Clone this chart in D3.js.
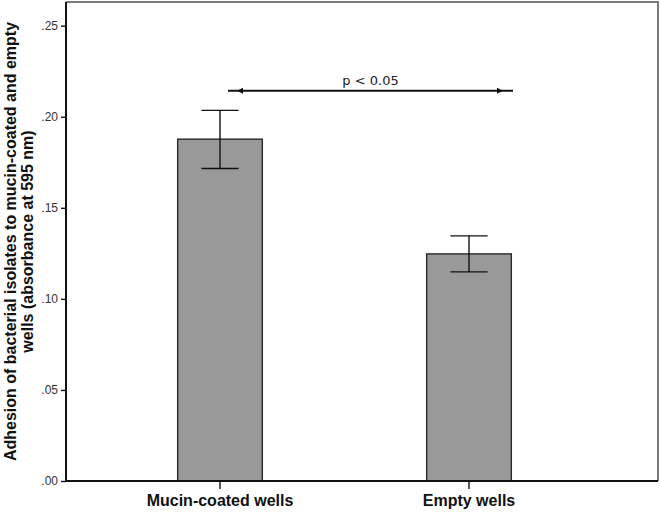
<!DOCTYPE html>
<html>
<head>
<meta charset="utf-8">
<script src="https://cdn.jsdelivr.net/npm/d3@7"></script>
<style>
  body { margin: 0; background: #fff; }
  svg { display: block; }
</style>
</head>
<body>
<div id="chart"></div>
<script>
const categories = ["Mucin-coated wells", "Empty wells"];
const means = [0.1877, 0.1247];
const ciLow = [0.1716, 0.1148];
const ciHigh = [0.2035, 0.1346];
const yTicks = [0, 0.05, 0.10, 0.15, 0.20, 0.25];
const sigLabel = "p < 0.05";
const sigLevel = 0.2143;

const width = 660, height = 512;
const margin = { top: 2, right: 2, bottom: 31, left: 66 };

const svg = d3.select("#chart").append("svg")
  .attr("width", width)
  .attr("height", height);

const y = d3.scaleLinear()
  .domain([0, 0.263])
  .range([height - margin.bottom, margin.top]);

const x = d3.scaleBand()
  .domain(categories)
  .range([95.5, 593.5])
  .paddingInner(0.66)
  .paddingOuter(0.33);

// frame (top/right in gray)
svg.append("path")
  .attr("d", `M${margin.left},${margin.top}H${width - margin.right}V${height - margin.bottom}`)
  .attr("fill", "none")
  .attr("stroke", "#7a7a7a")
  .attr("stroke-width", 2);

// bars
const data = categories.map((c, i) => ({ cat: c, mean: means[i], lo: ciLow[i], hi: ciHigh[i] }));

svg.selectAll("rect.bar")
  .data(data)
  .join("rect")
  .attr("class", "bar")
  .attr("x", d => x(d.cat))
  .attr("y", d => y(d.mean))
  .attr("width", x.bandwidth())
  .attr("height", d => y(0) - y(d.mean))
  .attr("fill", "#999999")
  .attr("stroke", "#2a2a2a")
  .attr("stroke-width", 1.4);

// error bars
const capW = x.bandwidth() * 0.44;
const eb = svg.selectAll("g.err")
  .data(data)
  .join("g")
  .attr("class", "err")
  .attr("stroke", "#111")
  .attr("stroke-width", 1.4);

eb.append("line")
  .attr("x1", d => x(d.cat) + x.bandwidth() / 2)
  .attr("x2", d => x(d.cat) + x.bandwidth() / 2)
  .attr("y1", d => y(d.lo))
  .attr("y2", d => y(d.hi));
eb.append("line")
  .attr("x1", d => x(d.cat) + x.bandwidth() / 2 - capW / 2)
  .attr("x2", d => x(d.cat) + x.bandwidth() / 2 + capW / 2)
  .attr("y1", d => y(d.hi))
  .attr("y2", d => y(d.hi));
eb.append("line")
  .attr("x1", d => x(d.cat) + x.bandwidth() / 2 - capW / 2)
  .attr("x2", d => x(d.cat) + x.bandwidth() / 2 + capW / 2)
  .attr("y1", d => y(d.lo))
  .attr("y2", d => y(d.lo));

// significance bracket
const c0 = x(categories[0]) + x.bandwidth() / 2;
const c1 = x(categories[1]) + x.bandwidth() / 2;
const sx0 = c0 + 8, sx1 = c1 + 44;
const sy = y(sigLevel);

svg.append("line")
  .attr("x1", sx0).attr("x2", sx1)
  .attr("y1", sy).attr("y2", sy)
  .attr("stroke", "#111")
  .attr("stroke-width", 2);

[[sx0 + 13, -1], [sx1 - 14, 1]].forEach(([px, dir]) => {
  svg.append("path")
    .attr("d", `M${px + dir * 4},${sy}L${px - dir * 2},${sy - 3}L${px - dir * 2},${sy + 3}Z`)
    .attr("fill", "#111");
});

svg.append("text")
  .attr("x", (sx0 + sx1) / 2)
  .attr("y", sy - 6)
  .attr("text-anchor", "middle")
  .attr("font-family", "DejaVu Sans, Verdana, sans-serif")
  .attr("font-size", 13)
  .attr("fill", "#222")
  .text(sigLabel);

// y axis
const yAxis = svg.append("g")
  .attr("transform", `translate(${margin.left},0)`)
  .call(d3.axisLeft(y).tickValues(yTicks).tickSize(5).tickPadding(3)
    .tickFormat(d => d3.format(".2f")(d).replace(/^0/, "")));
yAxis.select(".domain").attr("stroke", "#111").attr("stroke-width", 2)
  .attr("d", `M0,${margin.top}V${height - margin.bottom}`);
yAxis.selectAll(".tick line").attr("stroke", "#111").attr("stroke-width", 1.4);
yAxis.selectAll(".tick text")
  .attr("font-family", "Liberation Sans, Arial, sans-serif")
  .attr("font-size", 12)
  .attr("fill", "#333");

// x axis
const xAxis = svg.append("g")
  .attr("transform", `translate(0,${height - margin.bottom})`)
  .call(d3.axisBottom(x).tickSize(8).tickPadding(6));
xAxis.select(".domain").attr("stroke", "#111").attr("stroke-width", 2)
  .attr("d", `M${margin.left},0H${width - margin.right}`);
xAxis.selectAll(".tick line").attr("stroke", "#111").attr("stroke-width", 1.4);
xAxis.selectAll(".tick text")
  .attr("font-family", "Liberation Sans, Arial, sans-serif")
  .attr("font-weight", "bold")
  .attr("font-size", 16)
  .attr("fill", "#111");

// y title
const midY = (margin.top + height - margin.bottom) / 2;
const yTitle = svg.append("text")
  .attr("transform", `translate(16,${midY}) rotate(-90)`)
  .attr("text-anchor", "middle")
  .attr("font-family", "Liberation Sans, Arial, sans-serif")
  .attr("font-weight", "bold")
  .attr("font-size", 16)
  .attr("fill", "#111");
yTitle.append("tspan").attr("x", 0).attr("dy", 0)
  .text("Adhesion of bacterial isolates to mucin-coated and empty");
yTitle.append("tspan").attr("x", 0).attr("dy", 17)
  .text("wells (absorbance at 595 nm)");
</script>
</body>
</html>
